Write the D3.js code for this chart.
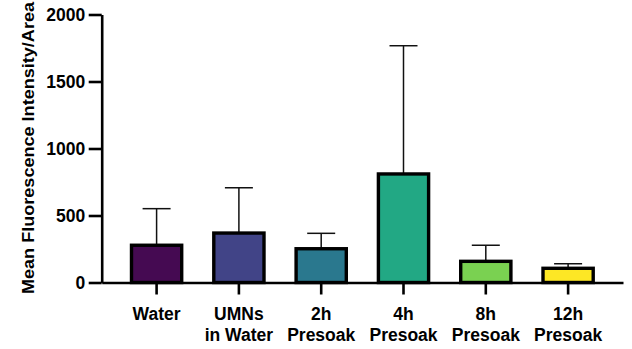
<!DOCTYPE html>
<html>
<head>
<meta charset="utf-8">
<script src="https://cdn.jsdelivr.net/npm/d3@7"></script>
<style>
  body { margin: 0; background: #fff; }
  text { font-family: "Liberation Sans", Arial, Helvetica, sans-serif; font-weight: bold; }
</style>
</head>
<body>
<div id="chart"></div>
<script>
// data
var groups = ['Water', 'UMNs in Water', '2h Presoak', '4h Presoak', '8h Presoak', '12h Presoak'];
var groupLines = [['Water'], ['UMNs', 'in Water'], ['2h', 'Presoak'], ['4h', 'Presoak'], ['8h', 'Presoak'], ['12h', 'Presoak']];
var means = [278, 369, 252, 810, 158, 106];
var upperErr = [551, 707, 367, 1767, 278, 140];
var colors = ['#450a52', '#414487', '#2a788e', '#22a884', '#7ad151', '#fde725'];
var yTicks = [0, 500, 1000, 1500, 2000];

var width = 632, height = 349;
var x0 = 101.7, x1 = 623, yTop = 14.5, yBot = 282.5;

var svg = d3.select('#chart').append('svg')
    .attr('width', width)
    .attr('height', height);

var x = d3.scaleBand()
    .domain(groups)
    .range([x0, x1])
    .paddingInner(0.39)
    .paddingOuter(0.362);

var y = d3.scaleLinear()
    .domain([0, 2000])
    .range([yBot, yTop]);

// error bars (upper only), drawn before bars
var err = svg.append('g').attr('class', 'err');
groups.forEach(function(g, i) {
    var cx = x(g) + x.bandwidth() / 2;
    err.append('line')
        .attr('x1', cx).attr('x2', cx)
        .attr('y1', y(means[i])).attr('y2', y(upperErr[i]))
        .attr('stroke', '#111').attr('stroke-width', 1.5);
    err.append('line')
        .attr('x1', cx - 14).attr('x2', cx + 14)
        .attr('y1', y(upperErr[i])).attr('y2', y(upperErr[i]))
        .attr('stroke', '#111').attr('stroke-width', 1.5);
});

// bars
svg.append('g').selectAll('rect')
    .data(groups)
    .enter().append('rect')
        .attr('x', function(d) { return x(d); })
        .attr('y', function(d, i) { return y(means[i]); })
        .attr('width', x.bandwidth())
        .attr('height', function(d, i) { return y(0) - y(means[i]); })
        .attr('fill', function(d, i) { return colors[i]; })
        .attr('stroke', '#000')
        .attr('stroke-width', 3.4);

// y axis
var yAxis = svg.append('g')
    .attr('transform', 'translate(' + x0 + ',0)')
    .call(d3.axisLeft(y).tickValues(yTicks).tickFormat(d3.format('d'))
        .tickSize(13).tickSizeOuter(0).tickPadding(3.5));
yAxis.select('.domain').attr('stroke', '#000').attr('stroke-width', 2.6);
yAxis.selectAll('.tick line').attr('stroke', '#000').attr('stroke-width', 2.6);
yAxis.selectAll('.tick text')
    .attr('fill', '#000')
    .style('font-size', '17.5px');

// x axis
var xAxis = svg.append('g')
    .attr('transform', 'translate(0,' + yBot + ')')
    .call(d3.axisBottom(x).tickSize(12).tickSizeOuter(0).tickFormat(''));
xAxis.select('.domain').attr('stroke', '#000').attr('stroke-width', 2.6);
xAxis.selectAll('.tick line').attr('stroke', '#000').attr('stroke-width', 2.6);
xAxis.selectAll('.tick').each(function(d, i) {
    var t = d3.select(this).append('text')
        .attr('fill', '#000')
        .attr('text-anchor', 'middle')
        .style('font-size', '17.5px');
    groupLines[i].forEach(function(line, j) {
        t.append('tspan')
            .attr('x', 0)
            .attr('y', 37.5 + j * 20.5)
            .text(line);
    });
});

// y title
svg.append('text')
    .attr('transform', 'translate(33.5,148) rotate(-90)')
    .attr('text-anchor', 'middle')
    .attr('textLength', 292)
    .attr('lengthAdjust', 'spacingAndGlyphs')
    .style('font-size', '16px')
    .text('Mean Fluorescence Intensity/Area');
</script>
</body>
</html>
